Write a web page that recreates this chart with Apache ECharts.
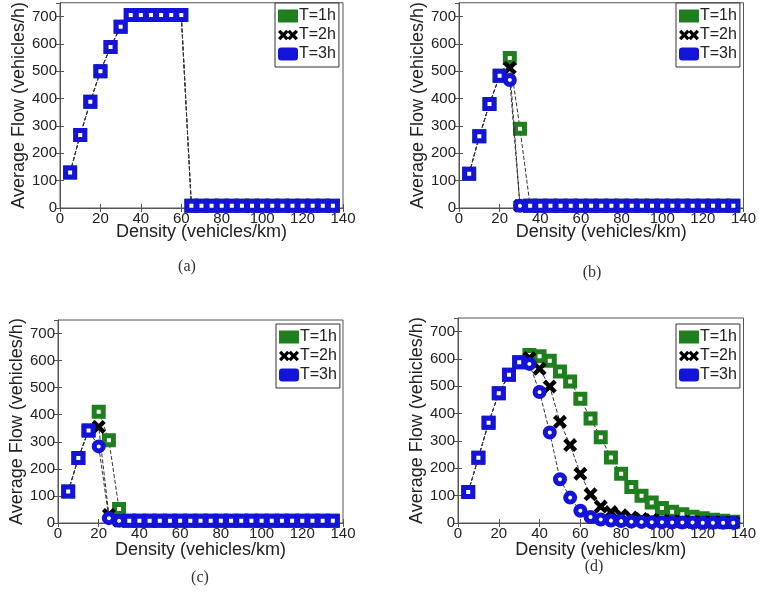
<!DOCTYPE html>
<html><head><meta charset="utf-8">
<script src="https://cdn.jsdelivr.net/npm/echarts@6/dist/echarts.min.js"></script>
<style>html,body{margin:0;padding:0;background:#fff}#c{width:759px;height:601px}</style>
</head><body><div id="c"></div>
<script>
const density = [5,10,15,20,25,30,35,40,45,50,55,60,65,70,75,80,85,90,95,100,105,110,115,120,125,130,135];
const seriesNames = ['T=1h','T=2h','T=3h'];
const captions = ['(a)','(b)','(c)','(d)'];
const xTitle = 'Density (vehicles/km)';
const yTitle = 'Average Flow (vehicles/h)';

// (a)
const a_T1 = [130,267,388,500,588,662,705,705,705,705,705,705,8,8,8,8,8,8,8,8,8,8,8,8,8,8,8];
const a_T2 = [130,267,388,500,588,662,705,705,705,705,705,705,8,8,8,8,8,8,8,8,8,8,8,8,8,8,8];
const a_T3 = [130,267,388,500,588,662,705,705,705,705,705,705,8,8,8,8,8,8,8,8,8,8,8,8,8,8,8];
// (b)
const b_T1 = [125,262,380,483,548,290,8,8,8,8,8,8,8,8,8,8,8,8,8,8,8,8,8,8,8,8,8];
const b_T2 = [125,262,380,483,512,8,8,8,8,8,8,8,8,8,8,8,8,8,8,8,8,8,8,8,8,8,8];
const b_T3 = [125,262,380,483,468,8,8,8,8,8,8,8,8,8,8,8,8,8,8,8,8,8,8,8,8,8,8];
// (c)
const c_T1 = [116,240,342,411,306,52,8,8,8,8,8,8,8,8,8,8,8,8,8,8,8,8,8,8,8,8,8];
const c_T2 = [116,240,342,355,30,8,8,8,8,8,8,8,8,8,8,8,8,8,8,8,8,8,8,8,8,8,8];
const c_T3 = [116,240,342,283,18,8,8,8,8,8,8,8,8,8,8,8,8,8,8,8,8,8,8,8,8,8,8];
// (d)
const d_T1 = [113,239,367,475,542,588,615,610,594,554,518,455,382,314,240,180,132,100,75,55,41,32,23,17,12,8,5];
const d_T2 = [113,239,367,475,542,588,603,564,499,370,285,180,105,60,40,28,20,15,11,8,6,5,4,3,3,2,2];
const d_T3 = [113,239,367,475,542,588,582,479,331,160,93,45,22,13,9,7,5,4,3,3,2,2,2,1,1,1,1];

const panels = [[a_T1,a_T2,a_T3],[b_T1,b_T2,b_T3],[c_T1,c_T2,c_T3],[d_T1,d_T2,d_T3]];

const GREEN = '#1f7f1f', BLACK = '#000000', BLUE = '#1414d8';
const XPATH = 'path://M0,2.2L2.2,0L5,2.8L7.8,0L10,2.2L7.2,5L10,7.8L7.8,10L5,7.2L2.2,10L0,7.8L2.8,5Z';
const XPATH2 = 'path://M0,2.2L2.2,0L5,2.8L7.8,0L10,2.2L7.2,5L10,7.8L7.8,10L5,7.2L2.2,10L0,7.8L2.8,5Z M9,2.2L11.2,0L14,2.8L16.8,0L19,2.2L16.2,5L19,7.8L16.8,10L14,7.2L11.2,10L9,7.8L11.8,5Z';
const FONT = 'Liberation Sans';
const TXT = '#222';

const gridBoxes = [
  {left:60, top:2, width:283, height:206},
  {left:459, top:2, width:287, height:206},
  {left:58, top:320, width:285, height:203},
  {left:458, top:318, width:286, height:205}
];
const legendPos = [{left:275,top:3},{left:676,top:3},{left:276,top:324},{left:676,top:324}];
const captionPos = [[187,267],[592,273],[200,578],[594,567]];

const grids = [], xAxes = [], yAxes = [], series = [], legends = [], graphics = [];
gridBoxes.forEach((g, p) => {
  grids.push(Object.assign({show:true, borderColor:'#555', borderWidth:1, backgroundColor:'#fff'}, g));
  xAxes.push({type:'value', gridIndex:p, min:0, max:140, interval:20, position:'bottom',
    name:xTitle, nameLocation:'middle', nameGap: p<2 ? 15 : 18, nameMoveOverlap:false,
    nameTextStyle:{fontFamily:FONT, fontSize:18, color:TXT},
    axisLine:{show:true, lineStyle:{color:'#555'}},
    axisTick:{show:true, inside:true, length:4, lineStyle:{color:'#555'}},
    axisLabel:{fontFamily:FONT, fontSize:15, color:TXT, margin:3},
    splitLine:{show:false}});
  xAxes.push({type:'value', gridIndex:p, min:0, max:140, interval:20, position:'top',
    axisLine:{show:false}, axisTick:{show:true, inside:true, length:4, lineStyle:{color:'#555'}},
    axisLabel:{show:false}, splitLine:{show:false}});
  yAxes.push({type:'value', gridIndex:p, min:0, max:750, interval:100, position:'left',
    name:yTitle, nameLocation:'middle', nameGap:32, nameMoveOverlap:false,
    nameTextStyle:{fontFamily:FONT, fontSize:18, color:TXT},
    axisLine:{show:true, lineStyle:{color:'#555'}},
    axisTick:{show:true, inside:true, length:4, lineStyle:{color:'#555'}},
    axisLabel:{fontFamily:FONT, fontSize:15, color:TXT, margin:3, showMaxLabel:false},
    splitLine:{show:false}});
  yAxes.push({type:'value', gridIndex:p, min:0, max:750, interval:100, position:'right',
    axisLine:{show:false}, axisTick:{show:true, inside:true, length:4, lineStyle:{color:'#555'}},
    axisLabel:{show:false}, splitLine:{show:false}});
  const vals = panels[p];
  const styles = [
    {symbol:'rect', symbolSize:9, itemStyle:{color:'#fff', borderColor:GREEN, borderWidth:5}},
    {symbol:XPATH, symbolSize:14, itemStyle:{color:BLACK, borderWidth:0}},
    {symbol:(v, prm) => (vals[2][prm.dataIndex] === vals[0][prm.dataIndex] ? 'rect' : 'circle'),
     symbolSize:9, itemStyle:{color:'#fff', borderColor:BLUE, borderWidth:5}}
  ];
  for (let k = 0; k < 3; k++) {
    series.push(Object.assign({
      type:'line', name:seriesNames[k], xAxisIndex:2*p, yAxisIndex:2*p,
      data: density.map((x, j) => [x, vals[k][j]]),
      showAllSymbol:true, animation:false, z: 2+k,
      lineStyle:{color:'#333', width:1, type:[4,2]},
      emphasis:{disabled:true}
    }, styles[k]));
  }
  legends.push({orient:'vertical', left:legendPos[p].left, top:legendPos[p].top,
    backgroundColor:'#fff', borderColor:'#333', borderWidth:1, borderRadius:0,
    padding:[5,3,5,3], itemGap:3, itemWidth:20, itemHeight:13,
    textStyle:{fontFamily:FONT, fontSize:16, lineHeight:15, color:TXT, padding:[0,0,0,-4]},
    selectedMode:false,
    data:[
      {name:'T=1h', icon:'rect', itemStyle:{color:GREEN, borderWidth:0}},
      {name:'T=2h', icon:XPATH2, itemStyle:{color:BLACK, borderWidth:0}},
      {name:'T=3h', icon:'roundRect', itemStyle:{color:BLUE, borderWidth:0}}
    ]});
  graphics.push({type:'text', x:captionPos[p][0], y:captionPos[p][1],
    style:{text:captions[p], fill:'#333', font:'16px "Liberation Serif"', textAlign:'center', textVerticalAlign:'middle'}});
});

const chart = echarts.init(document.getElementById('c'), null, {renderer:'canvas'});
chart.setOption({
  animation:false,
  grid:grids, xAxis:xAxes, yAxis:yAxes, series:series, legend:legends, graphic:graphics
});
</script>
</body></html>
